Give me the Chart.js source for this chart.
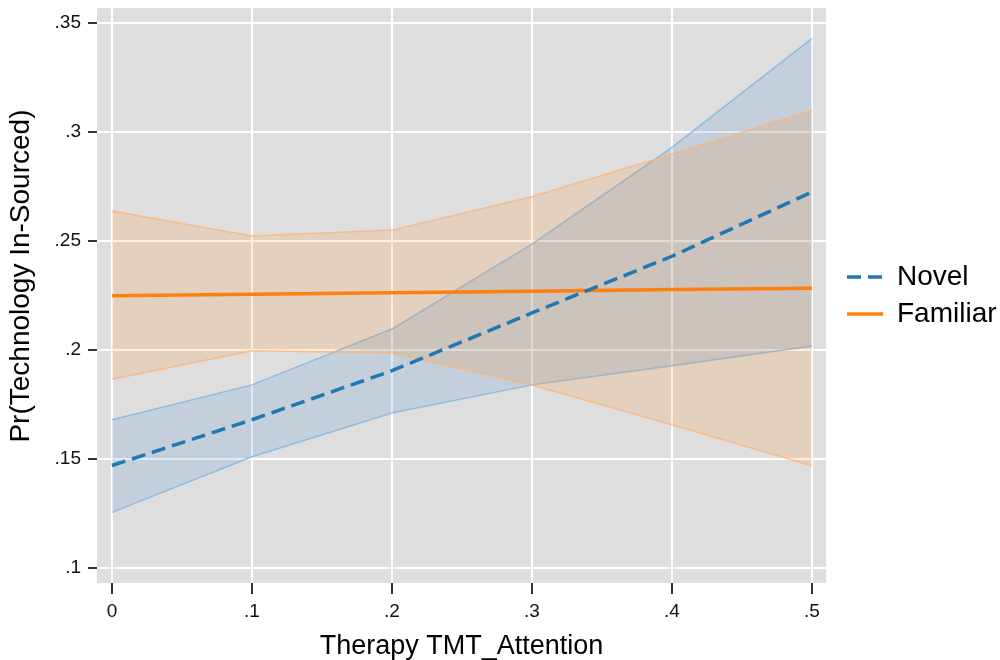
<!DOCTYPE html>
<html>
<head>
<meta charset="utf-8">
<script src="https://cdn.jsdelivr.net/npm/chart.js@4"></script>
<style>
  body { margin: 0; background: #fff; }
  #wrap { width: 1000px; height: 660px; }
</style>
</head>
<body>
<div id="wrap"><canvas id="marginsChart"></canvas></div>
<script>
// x values and tick labels
const attention = [0, 0.1, 0.2, 0.3, 0.4, 0.5];
const xTicks = [0, 0.1, 0.2, 0.3, 0.4, 0.5];
const yTicks = [0.1, 0.15, 0.2, 0.25, 0.3, 0.35];

// Novel: predicted probability with 95% CI
const novelMean = [0.147, 0.168, 0.1905, 0.217, 0.243, 0.2725];
const novelHi = [0.168, 0.184, 0.2096, 0.2486, 0.293, 0.343];
const novelLo = [0.1255, 0.151, 0.1711, 0.184, 0.1928, 0.2018];

// Familiar: predicted probability with 95% CI
const familiarMean = [0.2249, 0.2256, 0.2263, 0.227, 0.2277, 0.2283];
const familiarHi = [0.2638, 0.2523, 0.255, 0.2703, 0.2898, 0.310];
const familiarLo = [0.1866, 0.1997, 0.1986, 0.1839, 0.1657, 0.1469];

const toPoints = ys => attention.map((x, i) => ({ x: x, y: ys[i] }));
const fmt = v => (v === 0 ? '0' : String(+v.toFixed(2)).replace(/^0\./, '.'));

Chart.defaults.font.family = '"Liberation Sans", Arial, sans-serif';
Chart.defaults.color = '#111';

// gray plot region and a small nudge of the legend
const plotBackground = {
  id: 'plotBackground',
  beforeDraw(chart) {
    const { ctx, chartArea: a } = chart;
    ctx.save();
    ctx.fillStyle = '#dedede';
    ctx.fillRect(a.left, a.top, a.right - a.left, a.bottom - a.top);
    ctx.restore();
  },
  afterLayout(chart) {
    chart.legend.left += 12;
    chart.legend.right += 12;
  }
};

// no extra room for the end labels, the plot region is set by hand
const noEdgePadding = scale => {
  scale.paddingTop = 0;
  scale.paddingBottom = 0;
  scale.paddingLeft = 0;
  scale.paddingRight = 0;
};

const ctx = document.getElementById('marginsChart').getContext('2d');
const marginsChart = new Chart(ctx, {
  type: 'line',
  data: {
    datasets: [
      {
        label: 'Novel',
        data: toPoints(novelMean),
        borderColor: '#1f77b4',
        backgroundColor: '#1f77b4',
        borderWidth: 3.5,
        borderDash: [14, 7],
        pointRadius: 0,
        fill: false
      },
      {
        label: 'Familiar',
        data: toPoints(familiarMean),
        borderColor: '#ff7f0e',
        backgroundColor: '#ff7f0e',
        borderWidth: 3.5,
        pointRadius: 0,
        fill: false
      },
      {
        label: '',
        data: toPoints(familiarLo),
        borderColor: 'rgba(255,178,115,0.75)',
        borderWidth: 1.5,
        pointRadius: 0,
        fill: false
      },
      {
        label: '',
        data: toPoints(familiarHi),
        borderColor: 'rgba(255,178,115,0.75)',
        backgroundColor: 'rgba(255,127,14,0.15)',
        borderWidth: 1.5,
        pointRadius: 0,
        fill: 2
      },
      {
        label: '',
        data: toPoints(novelLo),
        borderColor: 'rgba(120,180,225,0.75)',
        borderWidth: 1.5,
        pointRadius: 0,
        fill: false
      },
      {
        label: '',
        data: toPoints(novelHi),
        borderColor: 'rgba(120,180,225,0.75)',
        backgroundColor: 'rgba(70,145,205,0.18)',
        borderWidth: 1.5,
        pointRadius: 0,
        fill: 4
      }
    ]
  },
  options: {
    responsive: true,
    maintainAspectRatio: false,
    animation: false,
    layout: { padding: { top: 8, left: 0, right: 10, bottom: 0 } },
    elements: { line: { tension: 0 } },
    plugins: {
      tooltip: { enabled: false },
      legend: {
        position: 'right',
        align: 'center',
        fullSize: false,
        maxWidth: 164,
        labels: {
          filter: item => item.text !== '',
          generateLabels: chart => Chart.defaults.plugins.legend.labels.generateLabels(chart).map(item => {
            const ds = chart.data.datasets[item.datasetIndex];
            item.lineDash = ds.borderDash || [];
            item.lineWidth = ds.borderWidth;
            item.strokeStyle = ds.borderColor;
            return item;
          }),
          usePointStyle: true,
          pointStyle: 'line',
          pointStyleWidth: 36,
          padding: 9,
          color: '#000',
          font: { size: 28 }
        }
      }
    },
    scales: {
      x: {
        type: 'linear',
        min: -0.0107,
        max: 0.51,
        afterBuildTicks: scale => { scale.ticks = xTicks.map(v => ({ value: v })); },
        afterFit: scale => { scale.height = 77; noEdgePadding(scale); },
        ticks: { callback: fmt, padding: 6, font: { size: 19 }, maxRotation: 0 },
        grid: { color: '#fff', lineWidth: 2, tickColor: '#333', tickLength: 11, tickWidth: 2 },
        border: { display: false },
        title: {
          display: true,
          text: 'Therapy TMT_Attention',
          color: '#000',
          font: { size: 27, lineHeight: 1 },
          padding: { top: 0, bottom: 0 }
        }
      },
      y: {
        min: 0.0931,
        max: 0.3569,
        afterBuildTicks: scale => { scale.ticks = yTicks.map(v => ({ value: v })); },
        afterFit: scale => { scale.width = 97; noEdgePadding(scale); },
        ticks: { callback: fmt, padding: 7, font: { size: 19 } },
        grid: { color: '#fff', lineWidth: 2, tickColor: '#333', tickLength: 9, tickWidth: 2 },
        border: { display: false },
        title: {
          display: true,
          // leading spaces lift the centred title a little, as in the original
          text: '     Pr(Technology In-Sourced)',
          color: '#000',
          font: { size: 28, lineHeight: 1 },
          padding: { top: 7, bottom: 0 }
        }
      }
    }
  },
  plugins: [plotBackground]
});
</script>
</body>
</html>
